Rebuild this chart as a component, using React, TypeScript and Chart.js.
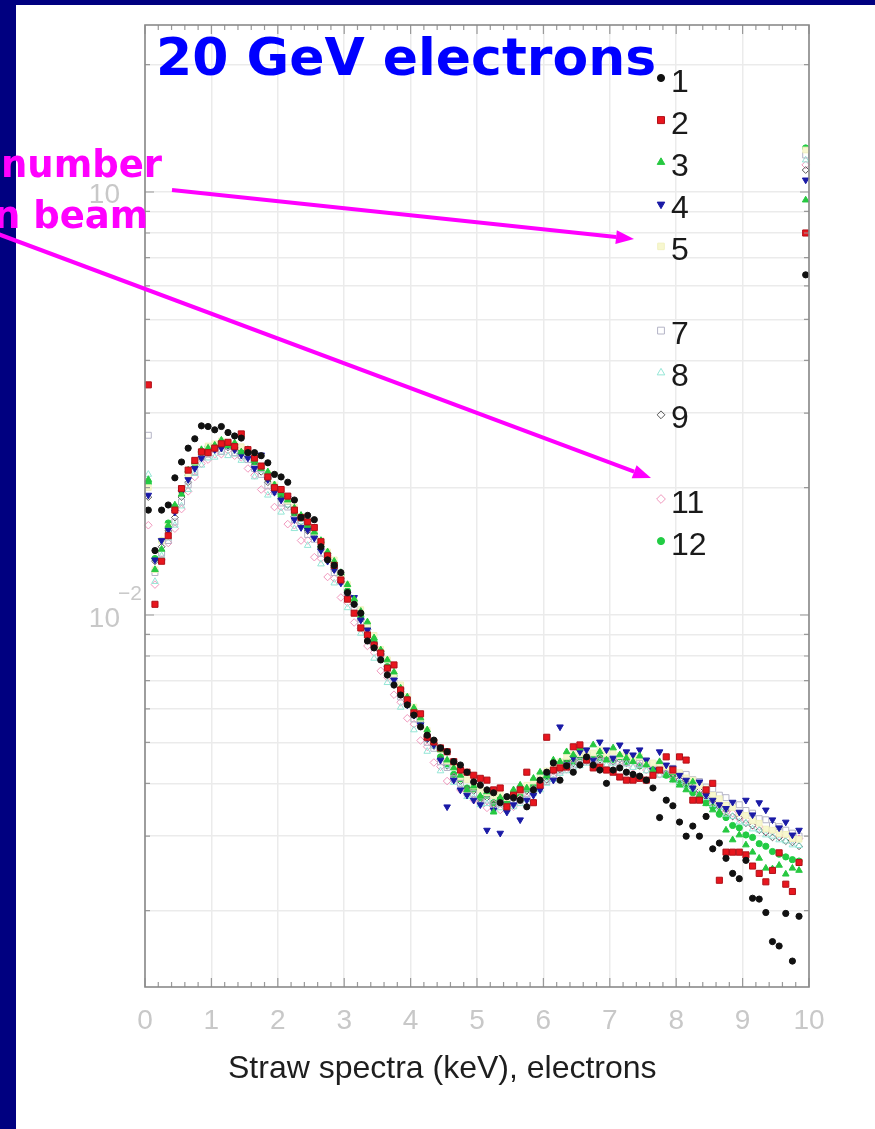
import React, { useEffect, useRef } from 'react';
import { Chart, registerables } from 'chart.js';
import { drawPoint } from 'chart.js/helpers';

Chart.register(...registerables);

// Energy bins of 0.1 keV; the last bin also collects everything above 10 keV.
const BIN_CENTERS = Array.from({ length: 100 }, (_, i) => Math.round((0.05 + 0.1 * i) * 100) / 100);

const X_TICK_LABELS = ['0', '1', '2', '3', '4', '5', '6', '7', '8', '9', '10'];
const Y_GRID_VALUES = [
  0.002, 0.003, 0.004, 0.005, 0.006, 0.007, 0.008, 0.009,
  0.01, 0.02, 0.03, 0.04, 0.05, 0.06, 0.07, 0.08, 0.09,
  0.1, 0.2,
];
const Y_MIN = 0.00132;
const Y_MAX = 0.2482;

const STRAW_1 = [
  0.0177, 0.0142, 0.0177, 0.0182, 0.0211, 0.0230, 0.0248, 0.0261, 0.0280, 0.0279,
  0.0274, 0.0279, 0.0270, 0.0265, 0.0262, 0.0242, 0.0242, 0.0238, 0.0229, 0.0215,
  0.0212, 0.0206, 0.0187, 0.0170, 0.0172, 0.0168, 0.0145, 0.0135, 0.0131, 0.0126,
  0.0113, 0.0106, 0.0101, 0.00868, 0.00836, 0.00783, 0.00721, 0.00683, 0.00647, 0.00613,
  0.00580, 0.00544, 0.00520, 0.00506, 0.00485, 0.00475, 0.00450, 0.00442, 0.00425, 0.00403,
  0.00396, 0.00386, 0.00380, 0.00360, 0.00372, 0.00370, 0.00365, 0.00352, 0.00386, 0.00407,
  0.00425, 0.00447, 0.00407, 0.00440, 0.00425, 0.00442, 0.00462, 0.00442, 0.00430, 0.00400,
  0.00430, 0.00435, 0.00425, 0.00420, 0.00416, 0.00407, 0.00390, 0.00332, 0.00365, 0.00354,
  0.00324, 0.00300, 0.00317, 0.00300, 0.00334, 0.00280, 0.00289, 0.00266, 0.00245, 0.00238,
  0.00263, 0.00214, 0.00213, 0.00198, 0.00169, 0.00165, 0.00197, 0.00152, 0.00194, 0.0637,
];

const STRAW_2 = [
  0.0350, 0.0106, 0.0134, 0.0154, 0.0177, 0.0199, 0.0220, 0.0232, 0.0243, 0.0242,
  0.0248, 0.0254, 0.0256, 0.0250, 0.0268, 0.0246, 0.0235, 0.0225, 0.0212, 0.0200,
  0.0198, 0.0191, 0.0177, 0.0170, 0.0166, 0.0161, 0.0149, 0.0138, 0.0131, 0.0121,
  0.0109, 0.0101, 0.00932, 0.00897, 0.00849, 0.00813, 0.00749, 0.00762, 0.00665, 0.00630,
  0.00587, 0.00584, 0.00514, 0.00501, 0.00485, 0.00475, 0.00450, 0.00430, 0.00425, 0.00418,
  0.00411, 0.00407, 0.00386, 0.00390, 0.00352, 0.00375, 0.00386, 0.00425, 0.00360, 0.00396,
  0.00514, 0.00430, 0.00435, 0.00437, 0.00488, 0.00493, 0.00454, 0.00435, 0.00437, 0.00430,
  0.00425, 0.00414, 0.00407, 0.00407, 0.00411, 0.00407, 0.00418, 0.00430, 0.00462, 0.00430,
  0.00462, 0.00454, 0.00365, 0.00365, 0.00386, 0.00400, 0.00236, 0.00275, 0.00275, 0.00275,
  0.00271, 0.00255, 0.00245, 0.00234, 0.00249, 0.00274, 0.00231, 0.00222, 0.00260, 0.0800,
];

const STRAW_3 = [
  0.0209, 0.0128, 0.0143, 0.0163, 0.0182, 0.0193, 0.0220, 0.0230, 0.0246, 0.0248,
  0.0252, 0.0259, 0.0251, 0.0255, 0.0243, 0.0246, 0.0232, 0.0222, 0.0218, 0.0203,
  0.0195, 0.0187, 0.0179, 0.0172, 0.0163, 0.0157, 0.0150, 0.0141, 0.0134, 0.0126,
  0.0118, 0.0109, 0.0102, 0.00963, 0.00883, 0.00827, 0.00783, 0.00733, 0.00672, 0.00640,
  0.00603, 0.00571, 0.00535, 0.00501, 0.00480, 0.00454, 0.00435, 0.00418, 0.00386, 0.00394,
  0.00373, 0.00382, 0.00342, 0.00370, 0.00356, 0.00386, 0.00396, 0.00390, 0.00411, 0.00425,
  0.00416, 0.00454, 0.00450, 0.00475, 0.00467, 0.00485, 0.00459, 0.00493, 0.00475, 0.00454,
  0.00485, 0.00467, 0.00459, 0.00450, 0.00464, 0.00442, 0.00430, 0.00450, 0.00418, 0.00407,
  0.00396, 0.00386, 0.00403, 0.00375, 0.00358, 0.00346, 0.00342, 0.00310, 0.00294, 0.00302,
  0.00286, 0.00275, 0.00266, 0.00252, 0.00251, 0.00256, 0.00244, 0.00252, 0.00249, 0.0957,
];

const STRAW_4 = [
  0.0192, 0.0135, 0.0150, 0.0159, 0.0175, 0.0195, 0.0209, 0.0222, 0.0235, 0.0243,
  0.0246, 0.0248, 0.0252, 0.0246, 0.0239, 0.0235, 0.0222, 0.0239, 0.0209, 0.0195,
  0.0187, 0.0189, 0.0168, 0.0161, 0.0159, 0.0152, 0.0142, 0.0134, 0.0128, 0.0119,
  0.0112, 0.0110, 0.00973, 0.00922, 0.00849, 0.00804, 0.00749, 0.00702, 0.00665, 0.00613,
  0.00580, 0.00550, 0.00512, 0.00493, 0.00454, 0.00352, 0.00407, 0.00386, 0.00375, 0.00365,
  0.00356, 0.00310, 0.00346, 0.00305, 0.00342, 0.00356, 0.00328, 0.00365, 0.00375, 0.00386,
  0.00418, 0.00407, 0.00544, 0.00442, 0.00459, 0.00475, 0.00480, 0.00454, 0.00501, 0.00480,
  0.00459, 0.00493, 0.00475, 0.00467, 0.00480, 0.00454, 0.00430, 0.00475, 0.00442, 0.00435,
  0.00418, 0.00407, 0.00390, 0.00403, 0.00375, 0.00365, 0.00356, 0.00349, 0.00361, 0.00342,
  0.00365, 0.00337, 0.00360, 0.00346, 0.00328, 0.00314, 0.00324, 0.00302, 0.00310, 0.1068,
];

const STRAW_5 = [
  0.0200, 0.0128, 0.0150, 0.0162, 0.0178, 0.0197, 0.0214, 0.0230, 0.0243, 0.0251,
  0.0254, 0.0258, 0.0255, 0.0253, 0.0250, 0.0241, 0.0236, 0.0224, 0.0216, 0.0203,
  0.0197, 0.0186, 0.0180, 0.0171, 0.0165, 0.0157, 0.0150, 0.0141, 0.0135, 0.0125,
  0.0118, 0.0108, 0.0103, 0.00950, 0.00895, 0.00830, 0.00785, 0.00725, 0.00684, 0.00642,
  0.00606, 0.00570, 0.00534, 0.00502, 0.00480, 0.00452, 0.00437, 0.00415, 0.00408, 0.00394,
  0.00385, 0.00380, 0.00374, 0.00378, 0.00370, 0.00381, 0.00384, 0.00396, 0.00405, 0.00419,
  0.00428, 0.00442, 0.00450, 0.00463, 0.00468, 0.00470, 0.00478, 0.00472, 0.00480, 0.00469,
  0.00476, 0.00465, 0.00470, 0.00458, 0.00462, 0.00450, 0.00447, 0.00440, 0.00438, 0.00428,
  0.00424, 0.00412, 0.00407, 0.00395, 0.00388, 0.00375, 0.00368, 0.00355, 0.00350, 0.00340,
  0.00336, 0.00326, 0.00322, 0.00312, 0.00310, 0.00304, 0.00303, 0.00296, 0.00295, 0.1257,
];

const STRAW_7 = [
  0.0266, 0.0126, 0.0140, 0.0150, 0.0166, 0.0185, 0.0203, 0.0218, 0.0236, 0.0240,
  0.0247, 0.0244, 0.0250, 0.0242, 0.0238, 0.0233, 0.0222, 0.0215, 0.0202, 0.0196,
  0.0184, 0.0180, 0.0168, 0.0164, 0.0155, 0.0151, 0.0140, 0.0136, 0.0126, 0.0120,
  0.0110, 0.0104, 0.00960, 0.00912, 0.00838, 0.00798, 0.00730, 0.00700, 0.00640, 0.00618,
  0.00568, 0.00550, 0.00500, 0.00484, 0.00450, 0.00436, 0.00410, 0.00400, 0.00380, 0.00378,
  0.00362, 0.00365, 0.00352, 0.00358, 0.00350, 0.00362, 0.00364, 0.00378, 0.00382, 0.00398,
  0.00404, 0.00420, 0.00428, 0.00440, 0.00442, 0.00450, 0.00452, 0.00458, 0.00450, 0.00460,
  0.00452, 0.00458, 0.00448, 0.00454, 0.00446, 0.00452, 0.00440, 0.00444, 0.00432, 0.00434,
  0.00422, 0.00420, 0.00408, 0.00404, 0.00392, 0.00388, 0.00375, 0.00370, 0.00358, 0.00356,
  0.00345, 0.00340, 0.00330, 0.00328, 0.00318, 0.00316, 0.00310, 0.00305, 0.00300, 0.1223,
];

const STRAW_8 = [
  0.0215, 0.0120, 0.0138, 0.0152, 0.0163, 0.0181, 0.0198, 0.0216, 0.0226, 0.0235,
  0.0236, 0.0242, 0.0238, 0.0240, 0.0232, 0.0236, 0.0212, 0.0220, 0.0192, 0.0201,
  0.0175, 0.0182, 0.0160, 0.0166, 0.0146, 0.0153, 0.0132, 0.0138, 0.0119, 0.0123,
  0.0104, 0.0107, 0.00905, 0.00935, 0.00790, 0.00815, 0.00692, 0.00712, 0.00605, 0.00625,
  0.00535, 0.00556, 0.00476, 0.00490, 0.00428, 0.00440, 0.00402, 0.00392, 0.00372, 0.00370,
  0.00356, 0.00358, 0.00345, 0.00350, 0.00346, 0.00352, 0.00358, 0.00366, 0.00378, 0.00386,
  0.00400, 0.00408, 0.00422, 0.00428, 0.00436, 0.00440, 0.00446, 0.00440, 0.00448, 0.00442,
  0.00446, 0.00438, 0.00444, 0.00436, 0.00440, 0.00428, 0.00430, 0.00418, 0.00420, 0.00408,
  0.00404, 0.00394, 0.00388, 0.00376, 0.00370, 0.00356, 0.00350, 0.00338, 0.00334, 0.00324,
  0.00322, 0.00312, 0.00310, 0.00302, 0.00300, 0.00294, 0.00292, 0.00286, 0.00285, 0.1190,
];

const STRAW_9 = [
  0.0190, 0.0134, 0.0145, 0.0158, 0.0170, 0.0190, 0.0206, 0.0224, 0.0235, 0.0244,
  0.0246, 0.0250, 0.0249, 0.0246, 0.0240, 0.0236, 0.0226, 0.0218, 0.0206, 0.0199,
  0.0188, 0.0182, 0.0171, 0.0166, 0.0158, 0.0153, 0.0143, 0.0138, 0.0128, 0.0122,
  0.0112, 0.0106, 0.00975, 0.00925, 0.00852, 0.00808, 0.00745, 0.00708, 0.00650, 0.00625,
  0.00578, 0.00556, 0.00508, 0.00490, 0.00456, 0.00440, 0.00414, 0.00405, 0.00388, 0.00384,
  0.00366, 0.00370, 0.00356, 0.00364, 0.00356, 0.00368, 0.00366, 0.00384, 0.00388, 0.00405,
  0.00408, 0.00428, 0.00432, 0.00448, 0.00446, 0.00456, 0.00452, 0.00462, 0.00455, 0.00462,
  0.00450, 0.00456, 0.00446, 0.00452, 0.00440, 0.00446, 0.00432, 0.00436, 0.00422, 0.00420,
  0.00408, 0.00402, 0.00390, 0.00384, 0.00372, 0.00364, 0.00352, 0.00346, 0.00334, 0.00332,
  0.00322, 0.00318, 0.00310, 0.00306, 0.00298, 0.00298, 0.00292, 0.00290, 0.00284, 0.1127,
];

const STRAW_11 = [
  0.0163, 0.0118, 0.0135, 0.0148, 0.0160, 0.0178, 0.0196, 0.0212, 0.0228, 0.0233,
  0.0240, 0.0240, 0.0245, 0.0238, 0.0236, 0.0222, 0.0214, 0.0198, 0.0196, 0.0180,
  0.0180, 0.0164, 0.0163, 0.0150, 0.0150, 0.0137, 0.0136, 0.0123, 0.0122, 0.0110,
  0.0107, 0.00960, 0.00930, 0.00845, 0.00815, 0.00738, 0.00712, 0.00648, 0.00622, 0.00570,
  0.00552, 0.00505, 0.00488, 0.00448, 0.00438, 0.00405, 0.00414, 0.00386, 0.00385, 0.00365,
  0.00368, 0.00350, 0.00358, 0.00346, 0.00355, 0.00352, 0.00368, 0.00370, 0.00388, 0.00392,
  0.00410, 0.00414, 0.00432, 0.00432, 0.00448, 0.00442, 0.00455, 0.00446, 0.00456, 0.00444,
  0.00452, 0.00440, 0.00448, 0.00436, 0.00442, 0.00430, 0.00434, 0.00420, 0.00424, 0.00410,
  0.00408, 0.00396, 0.00392, 0.00378, 0.00376, 0.00360, 0.00356, 0.00342, 0.00340, 0.00330,
  0.00328, 0.00318, 0.00316, 0.00308, 0.00308, 0.00300, 0.00302, 0.00294, 0.00296, 0.1159,
];

const STRAW_12 = [
  0.0205, 0.0136, 0.0150, 0.0165, 0.0180, 0.0196, 0.0214, 0.0228, 0.0242, 0.0250,
  0.0252, 0.0257, 0.0253, 0.0252, 0.0246, 0.0242, 0.0230, 0.0224, 0.0210, 0.0203,
  0.0191, 0.0186, 0.0174, 0.0169, 0.0160, 0.0156, 0.0145, 0.0140, 0.0130, 0.0124,
  0.0114, 0.0108, 0.00990, 0.00940, 0.00865, 0.00820, 0.00755, 0.00718, 0.00660, 0.00634,
  0.00585, 0.00562, 0.00515, 0.00496, 0.00462, 0.00445, 0.00420, 0.00410, 0.00390, 0.00388,
  0.00370, 0.00375, 0.00360, 0.00368, 0.00362, 0.00372, 0.00372, 0.00388, 0.00394, 0.00410,
  0.00415, 0.00432, 0.00438, 0.00452, 0.00450, 0.00462, 0.00458, 0.00468, 0.00460, 0.00466,
  0.00455, 0.00462, 0.00450, 0.00455, 0.00440, 0.00445, 0.00430, 0.00432, 0.00418, 0.00416,
  0.00400, 0.00396, 0.00380, 0.00374, 0.00360, 0.00352, 0.00338, 0.00332, 0.00318, 0.00314,
  0.00302, 0.00298, 0.00288, 0.00284, 0.00276, 0.00272, 0.00268, 0.00264, 0.00262, 0.1271,
];

type Straw = {
  label: string;
  values: number[];
  pointStyle: string;
  rotation: number;
  fill: string;
  stroke: string;
  radius: number;
  borderWidth: number;
};

const STRAWS: Straw[] = [
  { label: '1', values: STRAW_1, pointStyle: 'circle', rotation: 0, fill: '#111111', stroke: '#111111', radius: 3.1, borderWidth: 1 },
  { label: '2', values: STRAW_2, pointStyle: 'rect', rotation: 0, fill: '#e8161e', stroke: '#b01018', radius: 4.3, borderWidth: 1 },
  { label: '3', values: STRAW_3, pointStyle: 'triangle', rotation: 0, fill: '#26c840', stroke: '#26c840', radius: 3.8, borderWidth: 1 },
  { label: '4', values: STRAW_4, pointStyle: 'triangle', rotation: 180, fill: '#1a1aa6', stroke: '#1a1aa6', radius: 3.8, borderWidth: 1 },
  { label: '5', values: STRAW_5, pointStyle: 'rect', rotation: 0, fill: '#f7f7cf', stroke: '#f1f1c0', radius: 4, borderWidth: 1 },
  { label: '7', values: STRAW_7, pointStyle: 'rect', rotation: 0, fill: 'rgba(255,255,255,0)', stroke: '#b4b4c6', radius: 4.2, borderWidth: 1 },
  { label: '8', values: STRAW_8, pointStyle: 'triangle', rotation: 0, fill: 'rgba(255,255,255,0)', stroke: '#94e6d6', radius: 3.8, borderWidth: 1 },
  { label: '9', values: STRAW_9, pointStyle: 'rectRot', rotation: 0, fill: 'rgba(255,255,255,0)', stroke: '#555555', radius: 3.4, borderWidth: 1 },
  { label: '11', values: STRAW_11, pointStyle: 'rectRot', rotation: 0, fill: 'rgba(255,255,255,0)', stroke: '#f096bc', radius: 3.8, borderWidth: 1 },
  { label: '12', values: STRAW_12, pointStyle: 'circle', rotation: 0, fill: '#22cc44', stroke: '#22cc44', radius: 3.1, borderWidth: 1 },
];

const TITLE = '20 GeV electrons';
const X_TITLE = 'Straw spectra (keV), electrons';
const NOTE_LINES = ['number', 'n beam'];

const FRAME = { left: 145, top: 25, right: 809, bottom: 987 };
const LEGEND_TOP = 80;
const LEGEND_STEP = 42.1;

function drawArrow(ctx: CanvasRenderingContext2D, x0: number, y0: number, x1: number, y1: number) {
  const ang = Math.atan2(y1 - y0, x1 - x0);
  const len = 18;
  const half = 7;
  const bx = x1 - len * Math.cos(ang);
  const by = y1 - len * Math.sin(ang);
  ctx.beginPath();
  ctx.moveTo(x0, y0);
  ctx.lineTo(bx, by);
  ctx.stroke();
  ctx.beginPath();
  ctx.moveTo(x1, y1);
  ctx.lineTo(bx - half * Math.sin(ang), by + half * Math.cos(ang));
  ctx.lineTo(bx + half * Math.sin(ang), by - half * Math.cos(ang));
  ctx.closePath();
  ctx.fill();
}

const decorations = {
  id: 'decorations',
  afterDraw(chart: any) {
    const { ctx, chartArea: a } = chart;
    const xs = chart.scales.x;
    const ys = chart.scales.y;
    ctx.save();

    // inward tick marks on all four sides
    ctx.strokeStyle = '#9a9a9a';
    ctx.lineWidth = 1.2;
    for (let k = 0; k <= 50; k++) {
      const v = k / 5;
      const px = xs.getPixelForValue(v);
      const len = k % 5 === 0 ? 9 : 5;
      ctx.beginPath();
      ctx.moveTo(px, a.bottom);
      ctx.lineTo(px, a.bottom - len);
      ctx.moveTo(px, a.top);
      ctx.lineTo(px, a.top + len);
      ctx.stroke();
    }
    Y_GRID_VALUES.forEach((v) => {
      const py = ys.getPixelForValue(v);
      const len = v === 0.01 || v === 0.1 ? 9 : 5;
      ctx.beginPath();
      ctx.moveTo(a.left, py);
      ctx.lineTo(a.left + len, py);
      ctx.moveTo(a.right, py);
      ctx.lineTo(a.right - len, py);
      ctx.stroke();
    });

    // frame
    ctx.strokeStyle = '#8a8a8a';
    ctx.lineWidth = 1.6;
    ctx.strokeRect(a.left, a.top, a.right - a.left, a.bottom - a.top);

    // x tick labels
    ctx.fillStyle = '#c8c8c8';
    ctx.font = '28px "Liberation Sans", Arial, sans-serif';
    ctx.textAlign = 'center';
    ctx.textBaseline = 'alphabetic';
    X_TICK_LABELS.forEach((t, i) => {
      ctx.fillText(t, xs.getPixelForValue(i), 1029);
    });

    // y tick labels
    ctx.textAlign = 'right';
    ctx.fillText('10', 120, ys.getPixelForValue(0.1) + 11);
    ctx.fillText('10', 120, ys.getPixelForValue(0.01) + 12);
    ctx.font = '21px "Liberation Sans", Arial, sans-serif';
    ctx.textAlign = 'left';
    ctx.fillText('\u22122', 118, ys.getPixelForValue(0.01) - 15);

    // x axis title
    ctx.fillStyle = '#1e1e1e';
    ctx.font = '32px "Liberation Sans", Arial, sans-serif';
    ctx.fillText(X_TITLE, 228, 1078);

    // legend with straw numbers
    STRAWS.forEach((s) => {
      const n = parseInt(s.label, 10);
      const yy = LEGEND_TOP + LEGEND_STEP * (n - 1);
      ctx.fillStyle = s.fill;
      ctx.strokeStyle = s.stroke;
      ctx.lineWidth = s.borderWidth;
      drawPoint(
        ctx,
        { pointStyle: s.pointStyle, rotation: s.rotation, radius: s.radius * 1.15, borderWidth: s.borderWidth } as any,
        661,
        yy - 2
      );
      ctx.fillStyle = '#1a1a1a';
      ctx.font = '32px "Liberation Sans", Arial, sans-serif';
      ctx.textAlign = 'left';
      ctx.fillText(s.label, 671, yy + 11.5);
    });

    // heading
    ctx.fillStyle = '#0000ff';
    ctx.font = 'bold 52px "DejaVu Sans", Verdana, sans-serif';
    ctx.fillText(TITLE, 156, 75);

    // magenta note with arrows
    ctx.fillStyle = '#ff00ff';
    ctx.strokeStyle = '#ff00ff';
    ctx.font = 'bold 37px "DejaVu Sans", Verdana, sans-serif';
    ctx.fillText(NOTE_LINES[0], 1, 177);
    ctx.fillText(NOTE_LINES[1], -6, 228);
    ctx.lineWidth = 4;
    ctx.lineCap = 'butt';
    drawArrow(ctx, 172, 190, 634, 239);
    drawArrow(ctx, -2, 234, 651, 478);

    ctx.restore();
  },
};

export default function App() {
  const canvasRef = useRef<HTMLCanvasElement>(null);

  useEffect(() => {
    const canvas = canvasRef.current;
    if (!canvas) return;
    const chart = new Chart(canvas, {
      type: 'scatter',
      data: {
        datasets: STRAWS.map((s) => ({
          label: s.label,
          data: BIN_CENTERS.map((x, i) => ({ x, y: s.values[i] })),
          pointStyle: s.pointStyle as any,
          pointRotation: s.rotation,
          pointRadius: s.radius,
          pointBackgroundColor: s.fill,
          pointBorderColor: s.stroke,
          pointBorderWidth: s.borderWidth,
          showLine: false,
          clip: 6,
        })),
      },
      options: {
        responsive: false,
        animation: false,
        devicePixelRatio: 1,
        layout: {
          padding: {
            left: FRAME.left,
            top: FRAME.top,
            right: 875 - FRAME.right,
            bottom: 1129 - FRAME.bottom,
          },
        },
        plugins: {
          legend: { display: false },
          tooltip: { enabled: false },
          title: { display: false },
        },
        scales: {
          x: {
            type: 'linear',
            min: 0,
            max: 10,
            ticks: { display: false, stepSize: 1 },
            grid: { color: '#ebebeb', lineWidth: 1.5, drawTicks: false },
            border: { display: false },
          },
          y: {
            type: 'logarithmic',
            min: Y_MIN,
            max: Y_MAX,
            afterBuildTicks: (scale: any) => {
              scale.ticks = Y_GRID_VALUES.map((v) => ({ value: v }));
            },
            ticks: { display: false },
            grid: { color: '#ebebeb', lineWidth: 1.5, drawTicks: false },
            border: { display: false },
          },
        },
      },
      plugins: [decorations],
    });
    return () => chart.destroy();
  }, []);

  return (
    <div
      style={{
        position: 'fixed',
        left: 0,
        top: 0,
        width: 875,
        height: 1129,
        background: '#000080',
        overflow: 'hidden',
      }}
    >
      <div style={{ position: 'absolute', left: 16, top: 5, right: 0, bottom: 0, background: '#ffffff' }} />
      <canvas
        ref={canvasRef}
        width={875}
        height={1129}
        style={{ position: 'absolute', left: 0, top: 0, width: 875, height: 1129 }}
      />
    </div>
  );
}
